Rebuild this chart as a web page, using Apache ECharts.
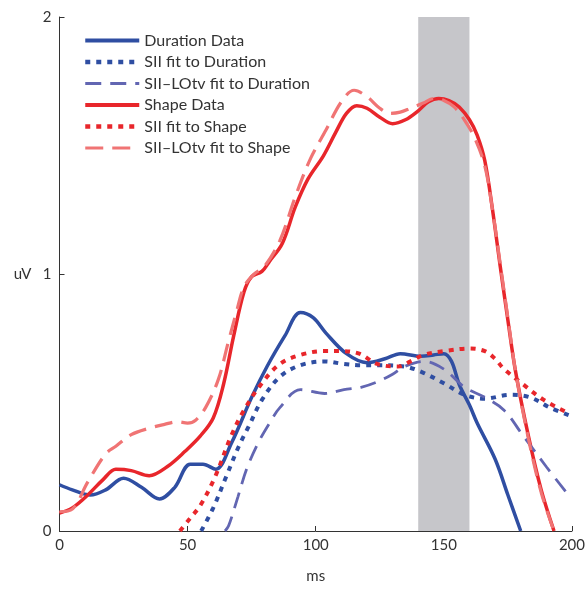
<!DOCTYPE html>
<html><head><meta charset="utf-8">
<script src="https://cdn.jsdelivr.net/npm/echarts@6/dist/echarts.min.js"></script>
<style>html,body{margin:0;padding:0;background:#fff}#c{width:588px;height:589px}</style>
</head><body><div id="c"></div>
<script>
// Duration Data
var durX = [0, 5, 12, 18, 25, 32, 39, 45, 51, 56, 61, 67, 75, 81, 88, 94, 99, 104, 112, 120, 127, 133, 141, 146, 150, 153, 156, 160, 163, 170, 175, 180];
var durY = [0.18, 0.16, 0.14, 0.16, 0.205, 0.17, 0.125, 0.17, 0.26, 0.26, 0.24, 0.34, 0.52, 0.64, 0.76, 0.85, 0.83, 0.77, 0.69, 0.655, 0.67, 0.69, 0.68, 0.685, 0.69, 0.66, 0.57, 0.49, 0.42, 0.28, 0.14, 0.0];
// SII fit to Duration
var durFitX = [55.3, 60, 65, 70, 74, 79, 86, 94, 103.5, 111, 118, 124, 134.6, 141, 150, 158, 166, 176, 183.7, 191.4, 199];
var durFitY = [0.0, 0.09, 0.21, 0.33, 0.41, 0.51, 0.60, 0.645, 0.66, 0.65, 0.645, 0.645, 0.64, 0.62, 0.575, 0.53, 0.515, 0.53, 0.52, 0.48, 0.45];
// SII-LOtv fit to Duration
var durLoX = [64.6, 66, 69.7, 73, 77.4, 82, 86, 94, 103.5, 111, 118, 124, 130, 134.6, 142.4, 150, 158, 166, 173.5, 181, 190, 199];
var durLoY = [0.0, 0.02, 0.135, 0.24, 0.34, 0.42, 0.48, 0.55, 0.535, 0.55, 0.56, 0.58, 0.61, 0.64, 0.66, 0.63, 0.56, 0.52, 0.47, 0.37, 0.25, 0.135];
// Shape Data
var shpX = [0, 5, 11, 17, 22, 28, 35, 42, 49, 55, 60, 64, 68, 72, 75, 79, 82, 87, 92, 97, 103, 108, 112, 116, 120, 125, 130, 135, 140, 144, 148, 152, 156, 160, 163, 166, 169, 172, 175, 178, 183, 188, 193];
var shpY = [0.07, 0.09, 0.14, 0.2, 0.24, 0.235, 0.215, 0.25, 0.31, 0.37, 0.44, 0.57, 0.76, 0.93, 0.99, 1.01, 1.05, 1.12, 1.26, 1.37, 1.46, 1.555, 1.625, 1.655, 1.645, 1.61, 1.585, 1.6, 1.635, 1.67, 1.683, 1.675, 1.65, 1.60, 1.54, 1.44, 1.25, 1.03, 0.82, 0.62, 0.37, 0.16, 0.0];
// SII fit to Shape
var shpFitX = [47, 51, 55, 60.7, 67, 72, 78.6, 86, 94, 103, 110, 117, 124, 132, 137, 142, 150, 160, 166, 170, 173.5, 181, 189, 199];
var shpFitY = [0.0, 0.05, 0.10, 0.21, 0.37, 0.47, 0.57, 0.65, 0.685, 0.70, 0.70, 0.69, 0.65, 0.64, 0.66, 0.685, 0.70, 0.71, 0.70, 0.67, 0.63, 0.57, 0.51, 0.457];
// SII-LOtv fit to Shape
var shpLoX = [0, 5, 11, 18, 22, 28, 35, 41, 46, 50, 53, 57, 62, 66, 69, 72, 76, 80, 86, 92, 98, 104, 110, 115, 120, 125, 129, 133, 137, 142, 146, 150, 154, 158, 162, 166, 169, 172, 175, 178, 183, 188, 193];
var shpLoY = [0.075, 0.085, 0.19, 0.3, 0.33, 0.375, 0.40, 0.415, 0.425, 0.42, 0.43, 0.48, 0.59, 0.74, 0.85, 0.95, 1.0, 1.03, 1.13, 1.30, 1.45, 1.56, 1.67, 1.715, 1.69, 1.645, 1.625, 1.63, 1.645, 1.665, 1.683, 1.675, 1.65, 1.60, 1.53, 1.42, 1.25, 1.04, 0.83, 0.62, 0.36, 0.15, 0.0];
// highlighted window
var band = [140, 160];
var xTicks = [0, 50, 100, 150, 200];
var yTicks = [0, 1, 2];
var names = ['Duration Data', 'SII fit to Duration', 'SII\u2013LOtv fit to Duration', 'Shape Data', 'SII fit to Shape', 'SII\u2013LOtv fit to Shape'];

function pairs(xs, ys) { return xs.map(function (x, i) { return [x, ys[i]]; }); }

var BLUE = '#2f4ea2', LBLUE = '#6266b2', RED = '#e8262b', LRED = '#f07474';
var FONT = 'Lato';
var widths = [4, 4.5, 3, 4, 4.5, 3.2];

function line(name, xs, ys, color, width, type, z) {
  return {
    name: name, type: 'line', data: pairs(xs, ys), smooth: 0.35, symbol: 'none', showSymbol: false,
    lineStyle: { color: color, width: width, type: type, cap: 'butt' }, itemStyle: { color: color },
    z: z, clip: true, animation: false
  };
}

var chart = echarts.init(document.getElementById('c'), null, { renderer: 'canvas' });
chart.setOption({
  animation: false,
  grid: { left: 59.5, right: 13, top: 17, bottom: 55 },
  legend: {
    left: 78, top: 27.5, orient: 'vertical', itemWidth: 54, itemHeight: 12, itemGap: 5.5,
    textStyle: { fontFamily: FONT, fontSize: 16, lineHeight: 16, color: '#333' },
    itemStyle: { opacity: 0 },
    data: names.map(function (n, i) { return { name: n, lineStyle: { width: widths[i] }, itemStyle: { opacity: 0 } }; }),
    selectedMode: false
  },
  xAxis: {
    type: 'value', min: xTicks[0], max: xTicks[xTicks.length - 1], interval: 50,
    name: 'ms', nameLocation: 'middle', nameGap: 38,
    nameTextStyle: { fontFamily: FONT, fontSize: 15, color: '#333' },
    axisLine: { show: true, lineStyle: { color: '#333', width: 1 } },
    axisTick: { show: true, inside: true, length: 5, lineStyle: { color: '#333' } },
    axisLabel: { fontFamily: FONT, fontSize: 15, color: '#333', margin: 7 },
    splitLine: { show: false }
  },
  yAxis: {
    type: 'value', min: yTicks[0], max: yTicks[yTicks.length - 1], interval: 1,
    name: 'uV', nameLocation: 'middle', nameGap: 28, nameRotate: 0,
    nameTextStyle: { fontFamily: FONT, fontSize: 15, color: '#333' },
    axisLine: { show: true, lineStyle: { color: '#333', width: 1 } },
    axisTick: { show: true, inside: true, length: 5, lineStyle: { color: '#333' } },
    axisLabel: { fontFamily: FONT, fontSize: 15, color: '#333', margin: 8 },
    splitLine: { show: false }
  },
  series: [
    {
      name: '_band', type: 'line', data: [], z: 0, silent: true,
      markArea: { silent: true, itemStyle: { color: '#c6c6ca', opacity: 1 }, data: [[{ xAxis: band[0] }, { xAxis: band[1] }]] }
    },
    line(names[0], durX, durY, BLUE, 3.5, 'solid', 3),
    line(names[1], durFitX, durFitY, BLUE, 4, [5, 6], 4),
    line(names[2], durLoX, durLoY, LBLUE, 2.8, [16, 9], 4),
    line(names[3], shpX, shpY, RED, 3.5, 'solid', 3),
    line(names[4], shpFitX, shpFitY, RED, 4, [5, 6], 4),
    line(names[5], shpLoX, shpLoY, LRED, 3.2, [18, 9], 5)
  ]
});
</script></body></html>
